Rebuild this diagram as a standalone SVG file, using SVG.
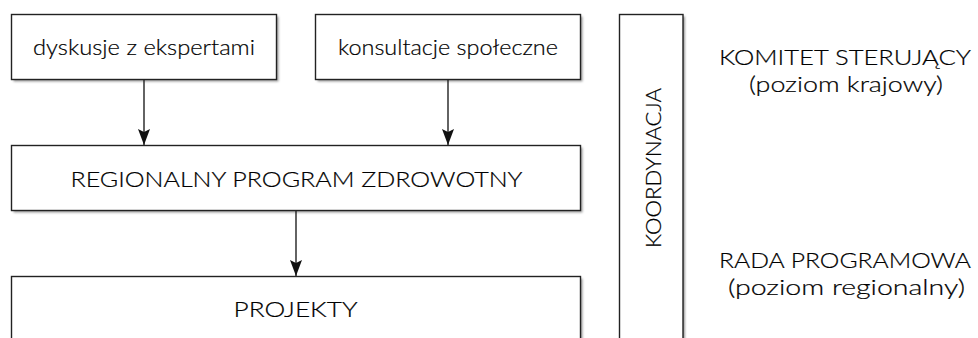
<svg xmlns="http://www.w3.org/2000/svg" width="978" height="338" viewBox="0 0 978 338">
<style>
.box{fill:#fff;stroke:#222;stroke-width:1.4}
.sh{fill:#9a9a9a;filter:url(#blur)}
.t{font-family:Lato,"Liberation Sans",Arial,sans-serif;font-weight:300;font-size:21.5px;fill:#000;stroke:#000;stroke-width:0.2;text-anchor:middle}
.c{stroke:#222;stroke-width:1.4;fill:none}
</style>
<defs>
<filter id="blur" x="-5%" y="-5%" width="110%" height="110%"><feGaussianBlur stdDeviation="0.8"/></filter>
<marker id="ah" markerUnits="userSpaceOnUse" markerWidth="16" markerHeight="12" viewBox="0 0 16 12" refX="16" refY="6" orient="auto">
<path d="M0,0 L16,6 L0,12 L3,6 z" fill="#111"/>
</marker>
</defs>
<rect width="978" height="338" fill="#fff"/>
<g id="n-dyskusje">
<rect class="sh" x="13.5" y="16.5" width="265" height="65"/>
<rect class="box" x="11.5" y="14.5" width="265" height="65"/>
<text class="t" x="144" y="55" textLength="222" lengthAdjust="spacingAndGlyphs">dyskusje z ekspertami</text>
</g>
<g id="n-konsultacje">
<rect class="sh" x="317.5" y="16.5" width="265" height="65"/>
<rect class="box" x="315.5" y="14.5" width="265" height="65"/>
<text class="t" x="448" y="55" textLength="220" lengthAdjust="spacingAndGlyphs">konsultacje społeczne</text>
</g>
<g id="n-program">
<rect class="sh" x="13.5" y="147.5" width="569" height="65"/>
<rect class="box" x="11.5" y="145.5" width="569" height="65"/>
<text class="t" x="296.5" y="187" textLength="452" lengthAdjust="spacingAndGlyphs">REGIONALNY PROGRAM ZDROWOTNY</text>
</g>
<g id="n-projekty">
<rect class="sh" x="13.5" y="278.5" width="569" height="80"/>
<rect class="box" x="11.5" y="276.5" width="569" height="80"/>
<text class="t" x="295.5" y="317" textLength="124" lengthAdjust="spacingAndGlyphs">PROJEKTY</text>
</g>
<g id="n-koordynacja">
<rect class="sh" x="621.5" y="16.5" width="63.5" height="340"/>
<rect class="box" x="619.5" y="14.5" width="63.5" height="340"/>
<text class="t" transform="translate(661,168) rotate(-90)" x="0" y="0" textLength="160" lengthAdjust="spacingAndGlyphs">KOORDYNACJA</text>
</g>
<g id="n-komitet">
<text class="t" x="845" y="65" textLength="252" lengthAdjust="spacingAndGlyphs">KOMITET STERUJĄCY</text>
<text class="t" x="846" y="92" textLength="194" lengthAdjust="spacingAndGlyphs">(poziom krajowy)</text>
</g>
<g id="n-rada">
<text class="t" x="845" y="268" textLength="252" lengthAdjust="spacingAndGlyphs">RADA PROGRAMOWA</text>
<text class="t" x="846.5" y="295" textLength="237" lengthAdjust="spacingAndGlyphs">(poziom regionalny)</text>
</g>
<g id="connectors">
<line class="c" x1="144" y1="79.5" x2="144" y2="145" marker-end="url(#ah)"/>
<line class="c" x1="448" y1="79.5" x2="448" y2="145" marker-end="url(#ah)"/>
<line class="c" x1="296" y1="210.5" x2="296" y2="276" marker-end="url(#ah)"/>
</g>
</svg>
